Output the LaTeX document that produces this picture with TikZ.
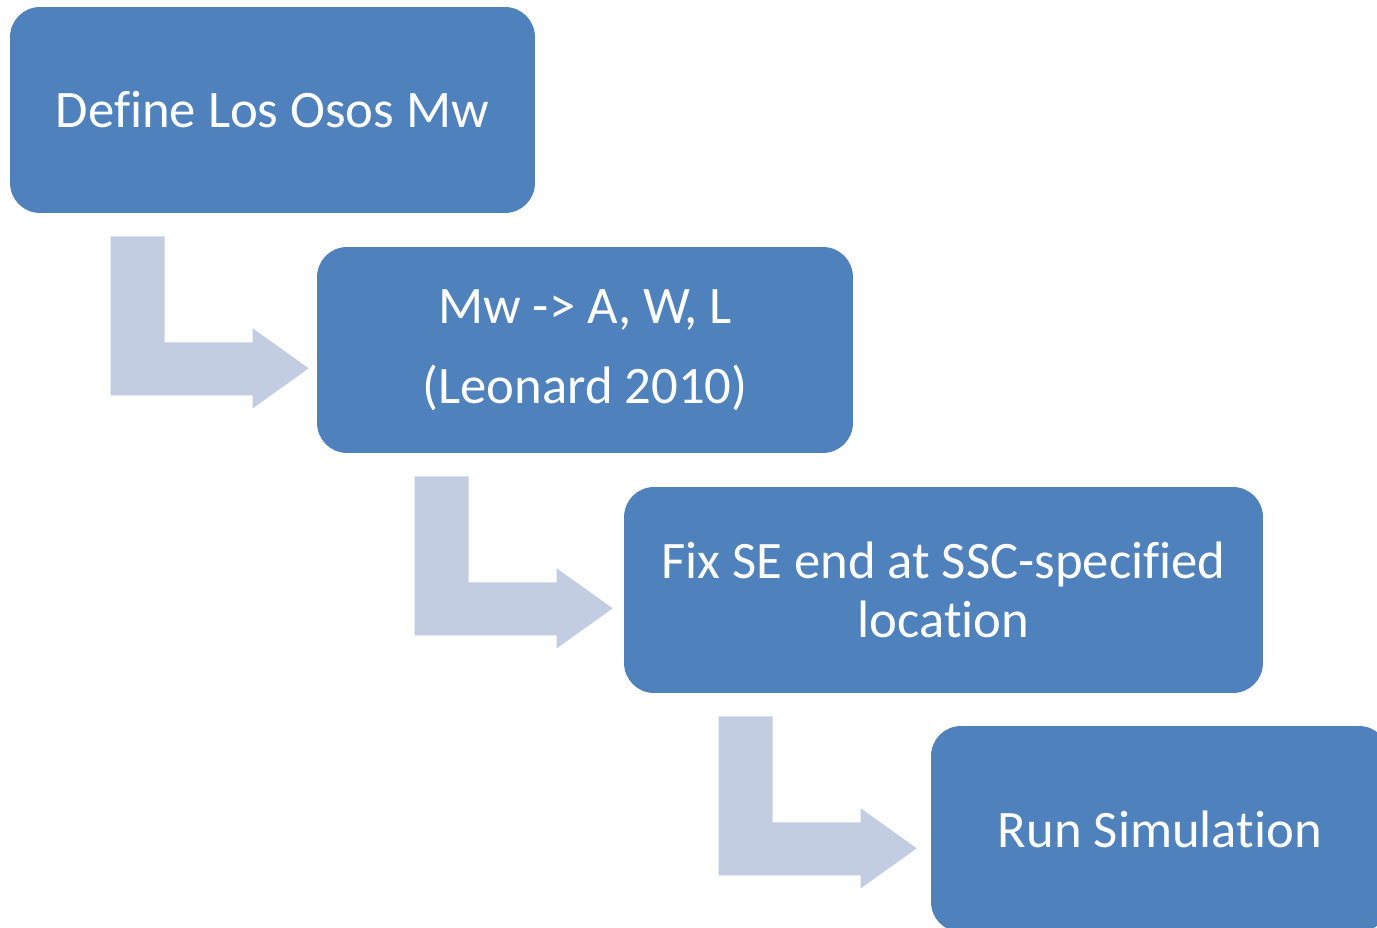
\documentclass[tikz,border=0pt]{standalone}
\usepackage{fontspec}
\setmainfont[Ligatures=NoCommon]{Carlito}
\usetikzlibrary{calc}
\definecolor{stepblue}{HTML}{4F81BD}
\definecolor{arrowgray}{HTML}{C3CDE1}

\begin{document}
\begin{tikzpicture}[x=0.02cm, y=-0.02cm,
  stepbox/.style={rectangle, rounded corners=0.6cm, fill=stepblue, text=white,
    minimum height=4.12cm, inner sep=0pt, align=center,
    font=\fontsize{30}{34}\selectfont},
  bent/.style={fill=arrowgray}
]
\clip (0,0) rectangle (1377,928);

\node[stepbox, minimum width=10.5cm] (def) at (272.5,110) {Define Los Osos Mw};
\node[stepbox, minimum width=10.72cm] (mw) at (585,350) {Mw -> A, W, L\\[11.5pt](Leonard 2010)};
\node[stepbox, minimum width=12.78cm] (fix) at (943.5,590) {Fix SE end at SSC-specified\\location};
\node[stepbox, minimum width=9.16cm] (run) at (1160,829) {Run Simulation};

% bent arrows between the steps
\foreach \a/\dx in {def/101, mw/98, fix/95}
  \fill[bent] ($(\a.south west)+(\dx,23)$) -- ++(54,0) -- ++(0,106) -- ++(88,0)
    -- ++(0,-14) -- ++(56,40) -- ++(-56,40) -- ++(0,-13) -- ++(-142,0) -- cycle;
\end{tikzpicture}
\end{document}
